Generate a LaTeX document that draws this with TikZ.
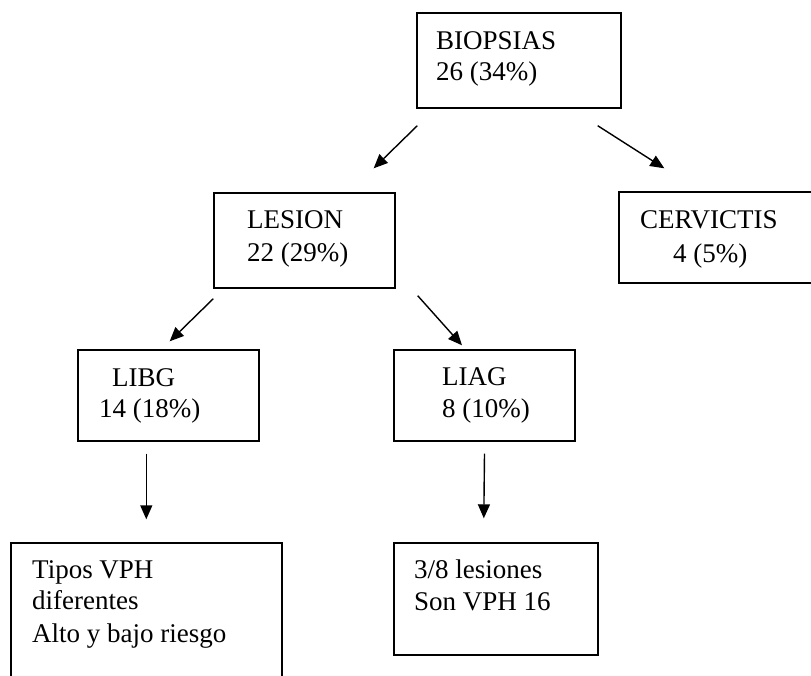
\documentclass[tikz,border=0pt]{standalone}
\usepackage{fontspec}
\setmainfont{Liberation Serif}
\usetikzlibrary{arrows.meta,calc}
\begin{document}
\begin{tikzpicture}[x=1pt,y=-1pt,
  boxnode/.style={draw=black,line width=1.4pt,inner sep=0pt,minimum width=#1},
  txt/.style={anchor=base west,inner sep=0pt,font=\fontsize{27}{32}\selectfont},
  conn/.style={line width=1.4pt,-{Triangle[length=14pt,width=12pt]}}]
\useasboundingbox (0,0) rectangle (811,675);
% boxes
\node[boxnode=204pt,minimum height=95pt] (bio) at (519,60.5) {};
\node[boxnode=181pt,minimum height=95pt] (les) at (304.5,240.5) {};
\node[boxnode=197pt,minimum height=91pt] (cer) at (717.5,237.5) {};
\node[boxnode=181pt,minimum height=91pt] (libg) at (168.5,395.5) {};
\node[boxnode=181pt,minimum height=91pt] (liag) at (484.5,395.5) {};
\node[boxnode=271pt,minimum height=160pt] (tipos) at (146.5,623) {};
\node[boxnode=204pt,minimum height=112pt] (son) at (496,599) {};
% texts
\node[txt] (bioA) at (436,49) {BIOPSIAS};
\node[txt] (bioB) at (436,80) {26 (34\%)};
\node[txt] (lesA) at (247,228) {LESION};
\node[txt] (lesB) at (247,261) {22 (29\%)};
\node[txt] (cerA) at (640,228) {CERVICTIS};
\node[txt] (cerB) at (673,262) {4 (5\%)};
\node[txt] (libgA) at (112,386) {LIBG};
\node[txt] (libgB) at (99,417) {14 (18\%)};
\node[txt] (liagA) at (442,385) {LIAG};
\node[txt] (liagB) at (442,417) {8 (10\%)};
\node[txt] (tiposA) at (32,578) {Tipos VPH};
\node[txt] (tiposB) at (32,609) {diferentes};
\node[txt] (tiposC) at (32,642) {Alto y bajo riesgo};
\node[txt] (sonA) at (414,578) {3/8 lesiones};
\node[txt] (sonB) at (414,610) {Son VPH 16};
% connectors
\draw[conn] ($(bio.south west)+(1,17)$) -- ($(les.north east)+(-22,-24)$);
\draw[conn] ($(bio.south east)+(-24,17)$) -- ($(cer.north west)+(46,-23)$);
\draw[conn] ($(les.south west)+(0,10)$) -- ($(libg.north east)+(-90,-8)$);
\draw[conn] ($(les.south east)+(22,7)$) -- ($(liag.north)+(-22.5,-4)$);
\draw[conn] ($(libg.south west)+(69,12)$) -- ($(tipos.north west)+(136,-23)$);
\draw[conn] ($(liag.south)+(0,12)$) -- ($(son.north west)+(90.5,-24)$);
\end{tikzpicture}
\end{document}
